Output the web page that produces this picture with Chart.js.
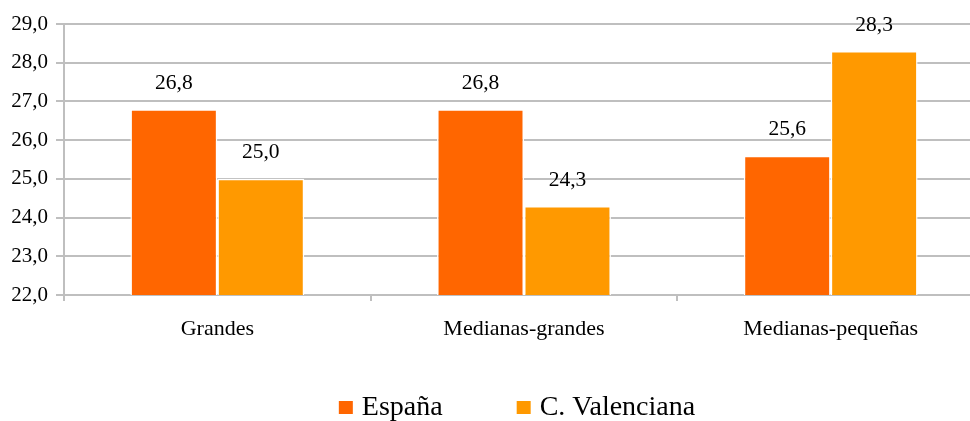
<!DOCTYPE html>
<html>
<head>
<meta charset="utf-8">
<script src="https://cdn.jsdelivr.net/npm/chart.js@4/dist/chart.umd.min.js"></script>
<style>
  html, body { margin: 0; padding: 0; background: #fff; overflow: hidden; }
  #wrap { width: 1034px; height: 421px; }
</style>
</head>
<body>
<div id="wrap"><canvas id="myTamanoChart"></canvas></div>
<script>
const categorias = ["Grandes", "Medianas-grandes", "Medianas-pequeñas"];
const espana = [26.8, 26.8, 25.6];
const valenciana = [25.0, 24.3, 28.3];
const yTicks = [22, 23, 24, 25, 26, 27, 28, 29];

const serif = "'Liberation Serif', 'Times New Roman', serif";
const grey = "#BFBFBF";

function coma(v) {
  return Number(v).toFixed(1).replace(".", ",");
}

// value written above every bar
const valueLabels = {
  id: "valueLabels",
  afterDatasetsDraw(chart) {
    const ctx = chart.ctx;
    ctx.save();
    ctx.font = "21.5px " + serif;
    ctx.fillStyle = "#000";
    ctx.textAlign = "center";
    ctx.textBaseline = "middle";
    chart.data.datasets.forEach((ds, i) => {
      chart.getDatasetMeta(i).data.forEach((bar, j) => {
        ctx.fillText(coma(ds.data[j]), bar.x, bar.y - 26);
      });
    });
    ctx.restore();
  },
};

// legend under the axis, wide gap between the two entries
const bottomLegend = {
  id: "bottomLegend",
  afterDraw(chart) {
    const ctx = chart.ctx;
    const box = 14, gap = 9, spacing = 74;
    ctx.save();
    ctx.font = "28px " + serif;
    ctx.textBaseline = "middle";
    const items = chart.data.datasets.map((ds) => ({
      text: ds.label,
      color: ds.backgroundColor,
      w: box + gap + ctx.measureText(ds.label).width,
    }));
    const total = items.reduce((s, it) => s + it.w, 0) + spacing * (items.length - 1);
    let x = chart.width / 2 - total / 2;
    const y = 408;
    items.forEach((it) => {
      ctx.fillStyle = it.color;
      ctx.fillRect(x, y - 7, box, 13);
      ctx.fillStyle = "#000";
      ctx.textAlign = "left";
      ctx.fillText(it.text, x + box + gap, y);
      x += it.w + spacing;
    });
    ctx.restore();
  },
};

const ctxTamano = document.getElementById("myTamanoChart").getContext("2d");
const myBarChart = new Chart(ctxTamano, {
  type: "bar",
  data: {
    labels: categorias,
    datasets: [
      {
        label: "España",
        data: espana,
        backgroundColor: "#FF6600",
        borderColor: "#FFFFFF",
        borderWidth: 1.5,
      },
      {
        label: "C. Valenciana",
        data: valenciana,
        backgroundColor: "#FF9900",
        borderColor: "#FFFFFF",
        borderWidth: 1.5,
      },
    ],
  },
  options: {
    responsive: true,
    maintainAspectRatio: false,
    animation: false,
    layout: {
      padding: { top: 24, right: 50, bottom: 76, left: 0 },
    },
    datasets: {
      bar: {
        categoryPercentage: 0.567,
        barPercentage: 1.0,
      },
    },
    scales: {
      x: {
        grid: {
          offset: true,
          drawOnChartArea: false,
          color: grey,
          lineWidth: 2,
          tickLength: 6,
        },
        border: { color: grey, width: 2 },
        ticks: {
          color: "#000",
          padding: 15,
          font: { family: serif, size: 22 },
        },
        afterFit(scale) {
          scale.height = 50;
        },
      },
      y: {
        min: 22,
        max: 29,
        afterBuildTicks(scale) {
          scale.ticks = yTicks.map((v) => ({ value: v }));
        },
        grid: {
          color: grey,
          lineWidth: 2,
          tickLength: 8,
        },
        border: { color: grey, width: 2 },
        ticks: {
          color: "#000",
          padding: 8,
          font: { family: serif, size: 21 },
          callback: (v) => coma(v),
        },
        afterFit(scale) {
          scale.width = 64;
        },
      },
    },
    plugins: {
      legend: { display: false },
      tooltip: { enabled: false },
    },
  },
  plugins: [valueLabels, bottomLegend],
});
</script>
</body>
</html>
